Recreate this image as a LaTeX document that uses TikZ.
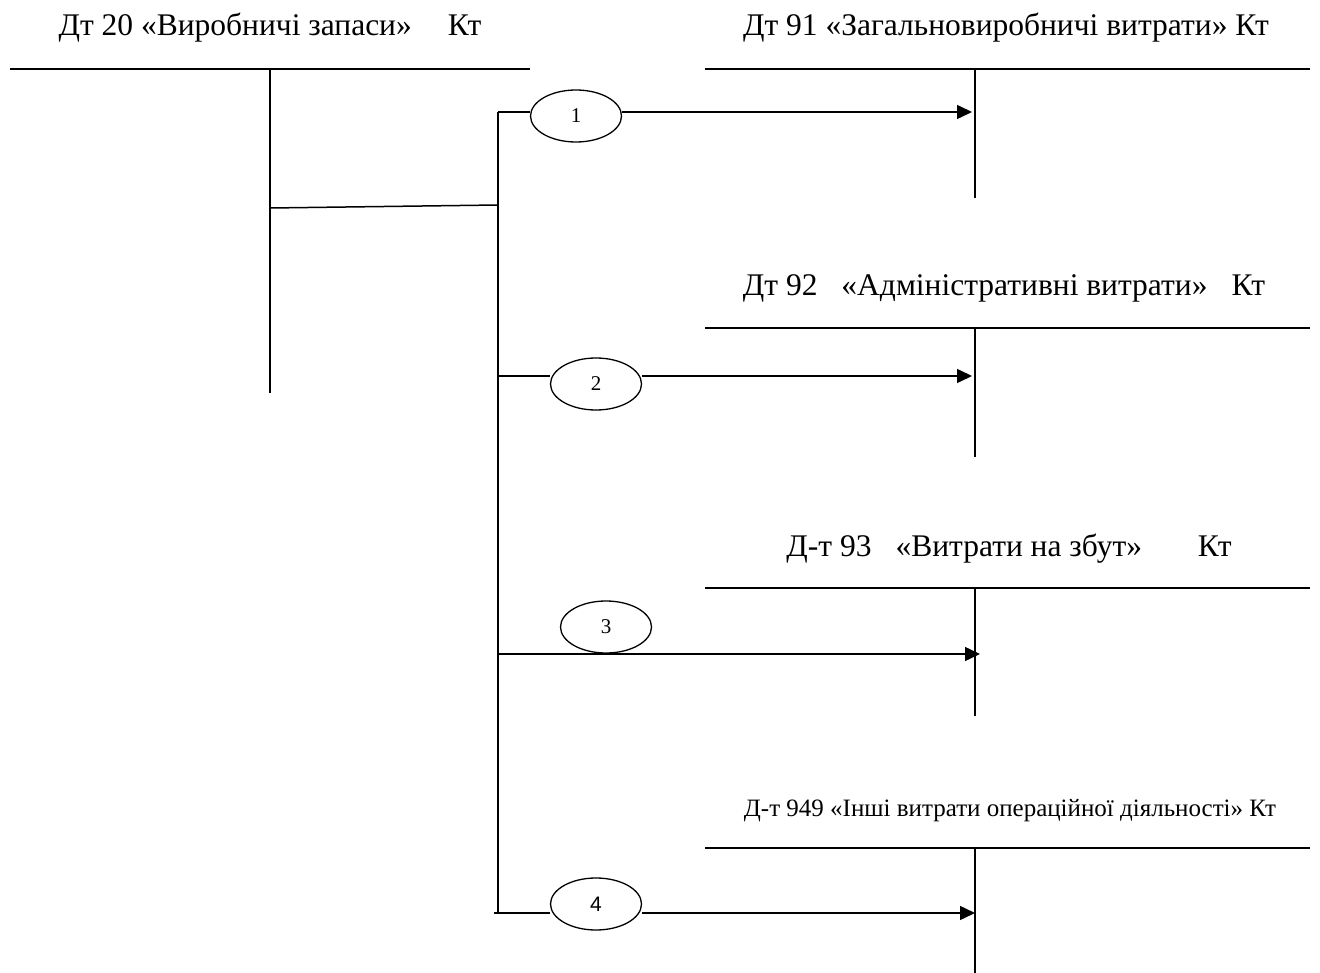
\documentclass[tikz,border=0pt]{standalone}
\usepackage{fontspec}
\setmainfont{Liberation Serif}
\newfontfamily\digitsans{Liberation Sans}
\usetikzlibrary{shapes.geometric,arrows.meta}
\begin{document}
\begin{tikzpicture}[x=1pt,y=-1pt,
  acct/.style={line width=1.6pt},
  wire/.style={line width=1.5pt},
  arr/.style={wire,-{Triangle[length=15pt,width=14pt]}},
  num/.style={draw,ellipse,line width=1.3pt,minimum width=91pt,minimum height=52pt,inner sep=0pt,font=\fontsize{21}{25}\selectfont},
  title/.style={inner sep=0pt,anchor=base,font=\fontsize{31.5}{36}\selectfont},
  smalltitle/.style={inner sep=0pt,anchor=base,font=\fontsize{25}{30}\selectfont}]
\useasboundingbox (0,0) rectangle (1320,973);
% titles
\node[title] (t20) at (270,36) {Дт 20 «Виробничі запаси»\hspace{36pt}Кт};
\node[title] (t91) at (1006,36) {Дт 91 «Загальновиробничі витрати» Кт};
\node[title] (t92) at (1004,296) {Дт 92\hspace{24pt}«Адміністративні витрати»\hspace{24pt}Кт};
\node[title] (t93) at (1009,556) {Д-т 93\hspace{24pt}«Витрати на збут»\hspace{56pt}Кт};
\node[smalltitle] (t949) at (1010,816) {Д-т 949 «Інші витрати операційної діяльності» Кт};
% account 20
\coordinate (a20l) at (10,69); \coordinate (a20r) at (530,69);
\coordinate (a20t) at (270,69); \coordinate (a20b) at (270,393);
\draw[acct] (a20l) -- (a20r);
\draw[acct] (a20t) -- (a20b);
% accounts on the right
\foreach \n/\y/\h in {91/69/129, 92/328/129, 93/588/128, 949/848/125}{
  \coordinate (l\n) at (705,\y); \coordinate (r\n) at (1310,\y);
  \coordinate (v\n) at (975,\y); \coordinate (w\n) at (975,\y+\h);
  \draw[acct] (l\n) -- (r\n);
  \draw[acct] (v\n) -- (w\n);
}
% bus
\coordinate (src) at (270,208);
\coordinate (bus0) at (498,205);
\coordinate (bus1) at (498,112);
\coordinate (bus2) at (498,376);
\coordinate (bus3) at (498,654);
\coordinate (bus4) at (498,913);
\coordinate (bus4s) at (494,913);
\draw[wire] (src) -- (bus0);
\draw[wire] (bus1) -- (bus4);
% ellipses
\node[num] (e1) at (576,116) {1};
\node[num] (e2) at (596,384) {2};
\node[num] (e3) at (606,627) {3};
\node[num,font=\fontsize{21}{25}\selectfont\digitsans] (e4) at (596,904) {4};
% targets
\coordinate (h1) at (972,112);
\coordinate (h2) at (972,376);
\coordinate (h3) at (980,654);
\coordinate (h4) at (975,913);
% branches
\draw[wire] (bus1) -- (e1.west|-bus1);
\draw[arr] (e1.east|-bus1) -- (h1);
\draw[wire] (bus2) -- (e2.west|-bus2);
\draw[arr] (e2.east|-bus2) -- (h2);
\draw[arr] (bus3) -- (h3);
\draw[wire] (bus4s) -- (e4.west|-bus4);
\draw[arr] (e4.east|-bus4) -- (h4);
\end{tikzpicture}
\end{document}
